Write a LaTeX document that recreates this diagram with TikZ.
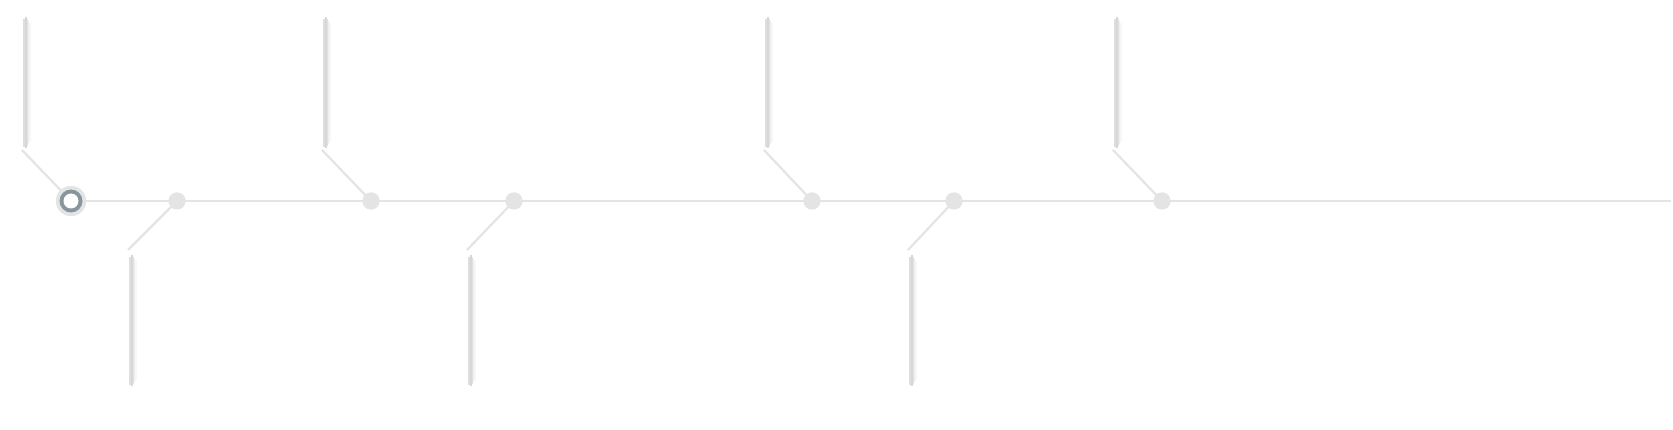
\documentclass[tikz,border=0pt]{standalone}
\usetikzlibrary{calc}
\definecolor{railgray}{HTML}{E4E4E4}
\definecolor{ringdark}{HTML}{87959D}
\definecolor{sh0}{HTML}{ECECEC}
\definecolor{sh1}{HTML}{DEDEDE}
\definecolor{sh2}{HTML}{D6D6D6}
\definecolor{sh3}{HTML}{D8D8D8}
\definecolor{sh4}{HTML}{E2E2E2}
\definecolor{sh5}{HTML}{EEEEEE}
\definecolor{sh6}{HTML}{F7F7F7}
\tikzset{
  rail/.style={draw=railgray, line width=2.2pt},
  stopdot/.style={circle, fill=railgray, minimum size=17pt, inner sep=0pt},
  startouter/.style={circle, fill=railgray, minimum size=30pt, inner sep=0pt},
  startmid/.style={circle, fill=ringdark, minimum size=23pt, inner sep=0pt},
  startinner/.style={circle, fill=white, minimum size=15pt, inner sep=0pt},
  shadowline/.style={line width=1.3pt},
}
% #1 = upper end, #2 = lower end
\newcommand{\glowbar}[2]{%
  \draw[shadowline, draw=sh0] ($(#1)+(0.9,10)$) -- ($(#2)+(0.9,-6)$);
  \draw[shadowline, draw=sh1] ($(#1)+(2,7)$) -- ($(#2)+(2,-3)$);
  \draw[shadowline, draw=sh2] ($(#1)+(3.2,5)$) -- ($(#2)+(3.2,-2)$);
  \draw[shadowline, draw=sh3] ($(#1)+(4.4,5)$) -- ($(#2)+(4.4,-2)$);
  \draw[shadowline, draw=sh4] ($(#1)+(5.6,7)$) -- ($(#2)+(5.6,-4)$);
  \draw[shadowline, draw=sh5] ($(#1)+(6.8,9)$) -- ($(#2)+(6.8,-6)$);
  \draw[shadowline, draw=sh6] ($(#1)+(8,11)$) -- ($(#2)+(8,-8)$);
  \draw[line width=2pt, draw=white] (#1) -- (#2);
}
\begin{document}
\begin{tikzpicture}[x=1pt, y=-1pt]
  \useasboundingbox[fill=white] (0,0) rectangle (1673,430);
  \coordinate (lineend) at (1671,201);
  \node[startouter] (s) at (71,201) {};
  \node[stopdot] (d1) at (177,201) {};
  \node[stopdot] (d2) at (371,201) {};
  \node[stopdot] (d3) at (514,201) {};
  \node[stopdot] (d4) at (812,201) {};
  \node[stopdot] (d5) at (954,201) {};
  \node[stopdot] (d6) at (1162,201) {};
  % top branches
  \coordinate (t0a) at (22,12);   \coordinate (t0b) at (22,150);
  \coordinate (t2a) at (322,12);  \coordinate (t2b) at (322,150);
  \coordinate (t4a) at (764,12);  \coordinate (t4b) at (764,150);
  \coordinate (t6a) at (1113,12); \coordinate (t6b) at (1113,150);
  % bottom branches
  \coordinate (b1a) at (128,250); \coordinate (b1b) at (128,388);
  \coordinate (b3a) at (467,250); \coordinate (b3b) at (467,388);
  \coordinate (b5a) at (908,250); \coordinate (b5b) at (908,388);
  % glowing bars
  \glowbar{t0a}{t0b}
  \glowbar{t2a}{t2b}
  \glowbar{t4a}{t4b}
  \glowbar{t6a}{t6b}
  \glowbar{b1a}{b1b}
  \glowbar{b3a}{b3b}
  \glowbar{b5a}{b5b}
  % rails
  \draw[rail] (s.center) -- (lineend);
  \draw[rail] (t0b) -- (s.center);
  \draw[rail] (t2b) -- (d2.center);
  \draw[rail] (t4b) -- (d4.center);
  \draw[rail] (t6b) -- (d6.center);
  \draw[rail] (d1.center) -- (b1a);
  \draw[rail] (d3.center) -- (b3a);
  \draw[rail] (d5.center) -- (b5a);
  % stops on top
  \node[stopdot] at (d1) {};
  \node[stopdot] at (d2) {};
  \node[stopdot] at (d3) {};
  \node[stopdot] at (d4) {};
  \node[stopdot] at (d5) {};
  \node[stopdot] at (d6) {};
  \node[startouter] at (s) {};
  \node[startmid] at (s) {};
  \node[startinner] at (s) {};
\end{tikzpicture}
\end{document}
